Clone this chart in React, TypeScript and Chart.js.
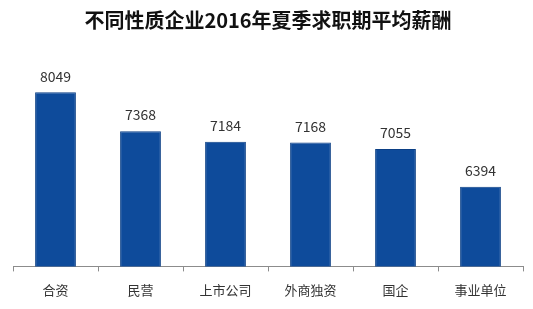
import React, { useEffect, useRef } from "react";
import { Chart, registerables } from "chart.js";

Chart.register(...registerables);

const categories = ["合资", "民营", "上市公司", "外商独资", "国企", "事业单位"];
const salaries = [8049, 7368, 7184, 7168, 7055, 6394];
const titleText = "不同性质企业2016年夏季求职期平均薪酬";
const FONT = "'Noto Sans CJK SC', 'Noto Sans', sans-serif";

const valueLabels = {
  id: "valueLabels",
  afterDatasetsDraw(chart: any) {
    const ctx = chart.ctx;
    const meta = chart.getDatasetMeta(0);
    ctx.save();
    ctx.font = `14px ${FONT}`;
    ctx.fillStyle = "#333333";
    ctx.textAlign = "center";
    ctx.textBaseline = "bottom";
    meta.data.forEach((bar: any, i: number) => {
      ctx.fillText(String(salaries[i]), bar.x, bar.y - 9);
    });
    ctx.restore();
  },
};

export default function App() {
  const ref = useRef<HTMLCanvasElement>(null);
  useEffect(() => {
    if (!ref.current) return;
    const chart = new Chart(ref.current, {
      type: "bar",
      data: {
        labels: categories,
        datasets: [
          {
            data: salaries,
            backgroundColor: "#0e4b9b",
            borderColor: "#0b3f85",
            borderWidth: 1,
            barPercentage: 0.48,
            categoryPercentage: 1,
          },
        ],
      },
      options: {
        animation: false,
        responsive: false,
        layout: { padding: { left: 13, right: 10, top: 0, bottom: 0 } },
        plugins: {
          legend: { display: false },
          tooltip: { enabled: false },
          title: {
            display: true,
            text: titleText,
            color: "#111111",
            font: { family: FONT, size: 20, weight: "bold" },
            padding: { top: 8, bottom: 6 },
          },
        },
        scales: {
          x: {
            offset: true,
            grid: {
              display: true,
              drawOnChartArea: false,
              drawTicks: true,
              tickLength: 5,
              color: "#8c8c8c",
              offset: true,
            },
            border: { display: true, color: "#8c8c8c" },
            ticks: {
              color: "#333333",
              font: { family: FONT, size: 13 },
              padding: 11,
            },
          },
          y: {
            display: false,
            min: 5000,
            max: 9000,
          },
        },
      },
      plugins: [valueLabels],
    });
    return () => chart.destroy();
  }, []);
  return (
    <div style={{ position: "fixed", left: 0, top: 0, width: 533, height: 309, background: "#fff" }}>
      <canvas ref={ref} width={533} height={309} />
    </div>
  );
}
